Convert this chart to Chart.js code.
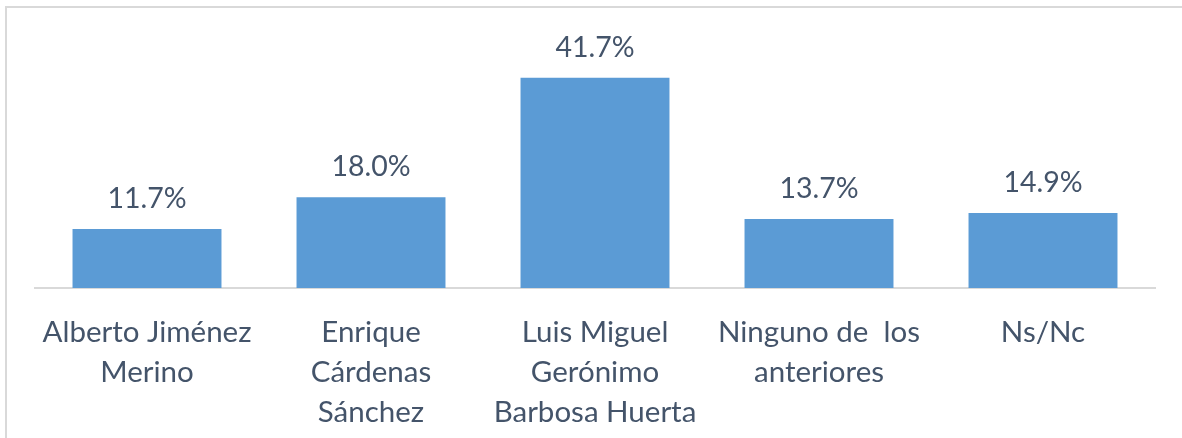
<!DOCTYPE html>
<html>
<head>
<meta charset="utf-8">
<script src="https://cdn.jsdelivr.net/npm/chart.js@4"></script>
<style>
  html, body { margin: 0; padding: 0; background: #fff; overflow: hidden; }
  #wrap { position: relative; width: 1182px; height: 438px; }
  #frame { position: absolute; left: 5px; top: 6px; width: 1200px; height: 460px; border: 2px solid #d9d9d9; box-sizing: border-box; }
  canvas { position: absolute; left: 0; top: 0; }
</style>
</head>
<body>
<div id="wrap">
  <div id="frame"></div>
  <canvas id="myChart" width="1182" height="438"></canvas>
</div>
<script>
const categories = [
  ['Alberto Jiménez', 'Merino'],
  ['Enrique', 'Cárdenas', 'Sánchez'],
  ['Luis Miguel', 'Gerónimo', 'Barbosa Huerta'],
  ['Ninguno de  los', 'anteriores'],
  ['Ns/Nc']
];
const percentages = [11.7, 18.0, 41.7, 13.7, 14.9];

const textColor = '#44546A';
const fontFamily = 'Lato, "Open Sans", sans-serif';

// draws the "xx.x%" labels above each bar
const valueLabels = {
  id: 'valueLabels',
  afterDatasetsDraw(chart) {
    const ctx = chart.ctx;
    const meta = chart.getDatasetMeta(0);
    ctx.save();
    ctx.font = '28.5px ' + fontFamily;
    ctx.fillStyle = textColor;
    ctx.textAlign = 'center';
    ctx.textBaseline = 'alphabetic';
    meta.data.forEach((bar, i) => {
      ctx.fillText(percentages[i].toFixed(1) + '%', bar.x, bar.y - 21);
    });
    ctx.restore();
  }
};

new Chart(document.getElementById('myChart'), {
  type: 'bar',
  data: {
    labels: categories,
    datasets: [{
      data: percentages,
      backgroundColor: '#5B9BD5',
      borderWidth: 0,
      barPercentage: 0.665,
      categoryPercentage: 1
    }]
  },
  options: {
    responsive: false,
    animation: false,
    layout: { padding: { top: 36, left: 35, right: 27, bottom: 0 } },
    plugins: { legend: { display: false }, tooltip: { enabled: false } },
    scales: {
      y: { display: false, min: 0, max: 50 },
      x: {
        grid: { display: false },
        border: { display: true, color: '#d9d9d9', width: 2 },
        ticks: {
          color: textColor,
          padding: 16,
          maxRotation: 0,
          autoSkip: false,
          font: { family: fontFamily, size: 29.5, lineHeight: 1.36 }
        },
        afterFit(scale) { scale.height = 150; }
      }
    }
  },
  plugins: [valueLabels]
});
</script>
</body>
</html>
